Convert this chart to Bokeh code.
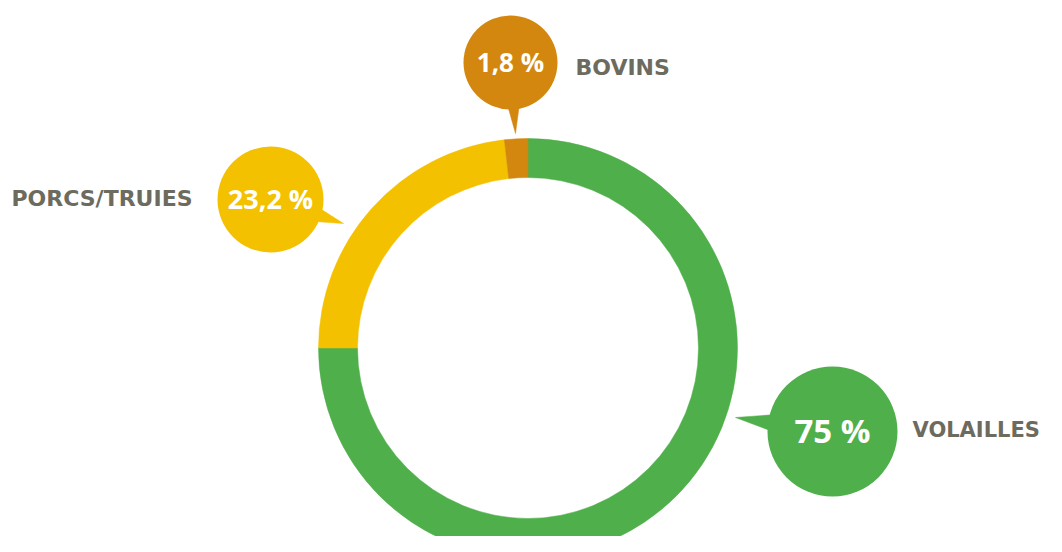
import math
from bokeh.plotting import figure
from bokeh.models import Range1d, ColumnDataSource
from bokeh.core.properties import value
from bokeh.embed import file_html
from bokeh.resources import INLINE

# ---- data ----
categories = ["VOLAILLES", "PORCS/TRUIES", "BOVINS"]
shares = [75.0, 23.2, 1.8]
pct_labels = ["75 %", "23,2 %", "1,8 %"]
colors = ["#4faf4b", "#f4c100", "#d3870f"]

# ---- layout (picture pixel coordinates) ----
W, H = 1046, 536
def Y(sy):
    return H - sy

cx, cy = 527.5, Y(347.5)
r_in, r_out = 170.5, 209.5

bubble_c = [(832, 431), (270, 199), (510, 62)]
bubble_r = [65, 53, 47]
tips = [(735, 417), (343, 223), (515, 133)]
half_w = [0.13, 0.14, 0.13]
pct_size = ["33px", "27px", "26px"]
lab_pos = [(912, 429, "left"), (192, 198, "right"), (575, 67, "left")]
lab_size = ["21px", "22px", "22px"]
text_gray = "#6c6b5e"

p = figure(width=W, height=H, output_backend="svg", toolbar_location=None,
           x_range=Range1d(0, W), y_range=Range1d(0, H),
           min_border=0, tools="")
p.axis.visible = False
p.grid.visible = False
p.outline_line_color = None
p.background_fill_color = "white"
p.border_fill_color = "white"

# donut ring
total = sum(shares)
starts, ends = [], []
cum = 0.0
for s in shares:
    starts.append(math.pi / 2 - cum / total * 2 * math.pi)
    cum += s
    ends.append(math.pi / 2 - cum / total * 2 * math.pi)
ring = ColumnDataSource(dict(start=starts, end=ends, color=colors))
p.annular_wedge(x=cx, y=cy, inner_radius=r_in, outer_radius=r_out,
                start_angle="start", end_angle="end", direction="clock",
                fill_color="color", line_color="color", line_width=0.5,
                source=ring)

# bubble pointers
xs, ys = [], []
for (bx, by), br, (tx, ty), hw in zip(bubble_c, bubble_r, tips, half_w):
    ang = math.atan2(Y(ty) - Y(by), tx - bx)
    a1, a2 = ang + hw, ang - hw
    d = br - 3
    xs.append([bx + d * math.cos(a1), tx, bx + d * math.cos(a2)])
    ys.append([Y(by) + d * math.sin(a1), Y(ty), Y(by) + d * math.sin(a2)])
p.patches(xs, ys, fill_color=colors, line_color=colors, line_width=0.5)

# bubbles
p.circle(x=[b[0] for b in bubble_c], y=[Y(b[1]) for b in bubble_c],
         radius=bubble_r, fill_color=colors, line_color=None)

# percentage labels
for (bx, by), t, fs in zip(bubble_c, pct_labels, pct_size):
    p.text(x=[bx], y=[Y(by) + 1], text=[t], text_color="white",
           text_font=value("Open Sans"), text_font_style="bold",
           text_font_size=fs, text_align="center", text_baseline="middle")

# category labels
for (lx, ly, al), t, fs in zip(lab_pos, categories, lab_size):
    p.text(x=[lx], y=[Y(ly)], text=[t], text_color=text_gray,
           text_font=value("DejaVu Sans"), text_font_style="bold",
           text_font_size=fs, text_align=al, text_baseline="middle")

open("out.html", "w").write(file_html(p, INLINE))
